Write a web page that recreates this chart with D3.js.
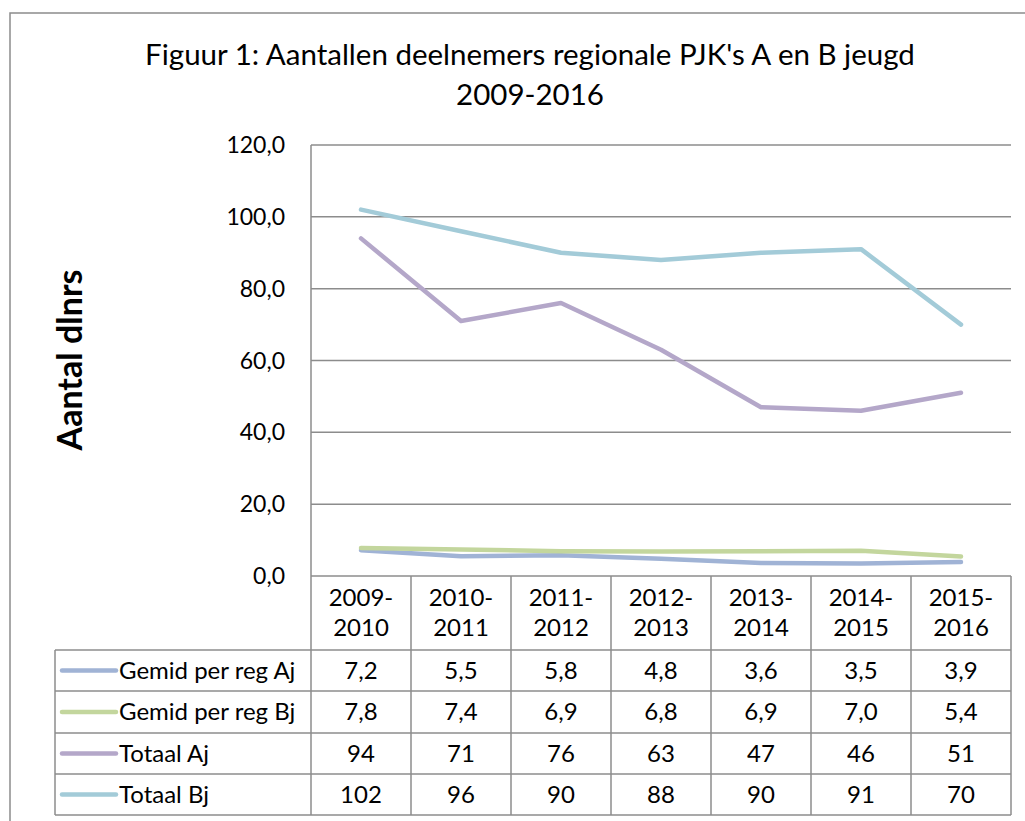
<!DOCTYPE html>
<html>
<head>
<meta charset="utf-8">
<script src="https://cdn.jsdelivr.net/npm/d3@7"></script>
<style>
  body { margin: 0; background: #fff; }
  svg text { font-family: Lato, "Open Sans", sans-serif; fill: #000; }
</style>
</head>
<body>
<svg id="chart" width="1025" height="821"></svg>
<script>
// data
const seasons = ['2009-2010', '2010-2011', '2011-2012', '2012-2013', '2013-2014', '2014-2015', '2015-2016'];
const seriesNames = ['Gemid per reg Aj', 'Gemid per reg Bj', 'Totaal Aj', 'Totaal Bj'];
const gemidAj = [7.2, 5.5, 5.8, 4.8, 3.6, 3.5, 3.9];
const gemidBj = [7.8, 7.4, 6.9, 6.8, 6.9, 7.0, 5.4];
const totaalAj = [94, 71, 76, 63, 47, 46, 51];
const totaalBj = [102, 96, 90, 88, 90, 91, 70];
const yTicks = [0, 20, 40, 60, 80, 100, 120];
const decimals = [1, 1, 0, 0];

const seriesValues = [gemidAj, gemidBj, totaalAj, totaalBj];
const colors = ['#a0b3d5', '#c3d69d', '#b4a7c9', '#a3cbd8'];
const gridColor = '#8c8c8c';

let svg = d3.select('svg#chart');

// chart frame (runs off the right and bottom of the picture)
svg.append('rect')
    .attr('x', 10).attr('y', 13)
    .attr('width', 1040).attr('height', 840)
    .attr('fill', 'none')
    .attr('stroke', gridColor)
    .attr('stroke-width', 1.5);

let margin = {left: 311, right: 1011, top: 145, bottom: 576};
let rowH = [650, 691, 733, 774, 815];

let x = d3.scaleBand()
    .domain(seasons)
    .range([margin.left, margin.right])
    .padding(0);

let y = d3.scaleLinear()
    .domain([0, 120])
    .range([margin.bottom, margin.top]);

let fmt = function(v, d) { return v.toFixed(d).replace('.', ','); };

// title
let title = svg.append('text')
    .attr('text-anchor', 'middle')
    .style('font-size', '29.5px');
title.append('tspan').attr('x', 530).attr('y', 65)
    .text("Figuur 1: Aantallen deelnemers regionale PJK's A en B jeugd");
title.append('tspan').attr('x', 530).attr('y', 105)
    .text('2009-2016');

// y axis title
svg.append('text')
    .attr('transform', 'translate(82,360) rotate(-90)')
    .attr('text-anchor', 'middle')
    .style('font-size', '34px')
    .style('font-weight', 'bold')
    .text('Aantal dlnrs');

// gridlines + tick labels
let grid = svg.append('g');
grid.selectAll('line')
    .data(yTicks)
    .enter().append('line')
    .attr('x1', margin.left).attr('x2', margin.right)
    .attr('y1', d => y(d)).attr('y2', d => y(d))
    .attr('stroke', gridColor)
    .attr('stroke-width', 1.5);

grid.selectAll('text')
    .data(yTicks)
    .enter().append('text')
    .attr('x', 285)
    .attr('y', d => y(d))
    .attr('dy', '0.35em')
    .attr('text-anchor', 'end')
    .style('font-size', '23px')
    .text(d => fmt(d, 1));

// table grid
let table = svg.append('g')
    .attr('stroke', gridColor)
    .attr('stroke-width', 1.5);

table.selectAll('line.v')
    .data(d3.range(seasons.length + 1))
    .enter().append('line')
    .attr('class', 'v')
    .attr('x1', i => margin.left + i * x.bandwidth())
    .attr('x2', i => margin.left + i * x.bandwidth())
    .attr('y1', i => i === 0 ? margin.top : margin.bottom)
    .attr('y2', rowH[rowH.length - 1]);

table.selectAll('line.h')
    .data(rowH)
    .enter().append('line')
    .attr('class', 'h')
    .attr('x1', 55).attr('x2', margin.right)
    .attr('y1', d => d).attr('y2', d => d);

table.append('line')
    .attr('x1', 55).attr('x2', 55)
    .attr('y1', rowH[0]).attr('y2', rowH[rowH.length - 1]);

// header cells
let header = svg.append('g')
    .selectAll('text')
    .data(seasons)
    .enter().append('text')
    .attr('text-anchor', 'middle')
    .style('font-size', '24px');
header.append('tspan')
    .attr('x', d => x(d) + x.bandwidth() / 2)
    .attr('y', 598).attr('dy', '0.35em')
    .text(d => d.split('-')[0] + '-');
header.append('tspan')
    .attr('x', d => x(d) + x.bandwidth() / 2)
    .attr('y', 628).attr('dy', '0.35em')
    .text(d => d.split('-')[1]);

// data rows with legend keys
seriesNames.forEach(function(name, s) {
  let cy = (rowH[s] + rowH[s + 1]) / 2;

  svg.append('line')
      .attr('x1', 62).attr('x2', 116)
      .attr('y1', cy).attr('y2', cy)
      .attr('stroke', colors[s])
      .attr('stroke-width', 4.5)
      .attr('stroke-linecap', 'round');

  svg.append('text')
      .attr('x', 119).attr('y', cy).attr('dy', '0.35em')
      .style('font-size', '24px')
      .text(name);

  svg.append('g')
      .selectAll('text')
      .data(seriesValues[s])
      .enter().append('text')
      .attr('x', (d, i) => x(seasons[i]) + x.bandwidth() / 2)
      .attr('y', cy).attr('dy', '0.35em')
      .attr('text-anchor', 'middle')
      .style('font-size', '24px')
      .text(d => fmt(d, decimals[s]));
});

// lines
let line = d3.line()
    .x((d, i) => x(seasons[i]) + x.bandwidth() / 2)
    .y(d => y(d));

svg.append('g')
    .selectAll('path')
    .data(seriesValues)
    .enter().append('path')
    .attr('d', line)
    .attr('fill', 'none')
    .attr('stroke', (d, i) => colors[i])
    .attr('stroke-width', 4.5)
    .attr('stroke-linecap', 'round')
    .attr('stroke-linejoin', 'round');
</script>
</body>
</html>
